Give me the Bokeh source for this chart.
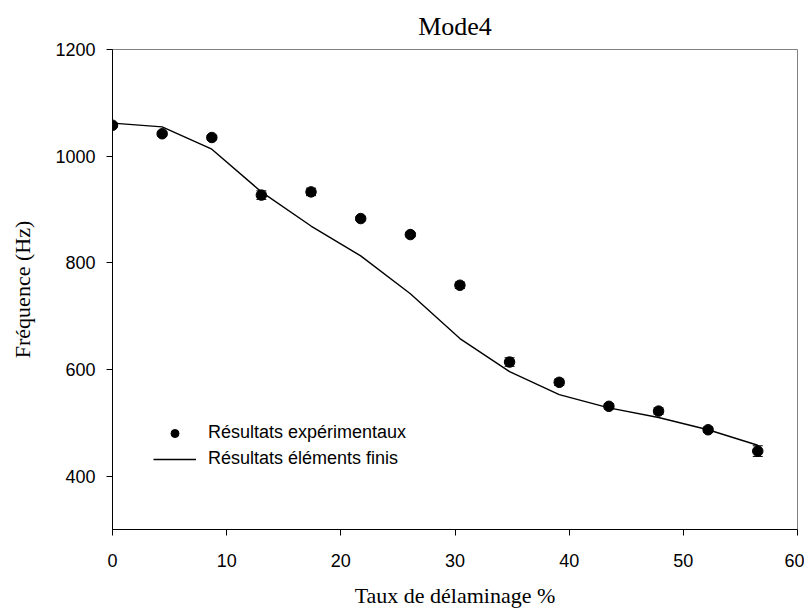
from bokeh.plotting import figure
from bokeh.models import ColumnDataSource, Whisker, FixedTicker, Legend, LegendItem, TeeHead
from bokeh.embed import file_html
from bokeh.resources import INLINE

# Data
taux = [0, 4.35, 8.7, 13.04, 17.39, 21.74, 26.09, 30.43, 34.78, 39.13, 43.48, 47.83, 52.17, 56.52]
freq_exp = [1058, 1042, 1035, 927, 933, 883, 853, 758, 614, 576, 531, 522, 487, 447]
freq_err = [4, 4, 4, 8, 7, 4, 4, 6, 8, 6, 5, 6, 5, 10]
freq_ef = [1062, 1055, 1013, 933, 869, 813, 742, 658, 596, 553, 528, 510, 487, 458]
x_ticks = [0, 10, 20, 30, 40, 50, 60]
y_ticks = [400, 600, 800, 1000, 1200]

src = ColumnDataSource(dict(
    x=taux, y=freq_exp,
    lo=[v - e for v, e in zip(freq_exp, freq_err)],
    hi=[v + e for v, e in zip(freq_exp, freq_err)],
))

p = figure(width=804, height=614, x_range=(0, 60), y_range=(300, 1200),
           output_backend="svg", toolbar_location=None,
           min_border_left=112, min_border_right=7, min_border_top=49, min_border_bottom=85)

p.title.text = "Mode4"
p.title.align = "center"
p.title.vertical_align = "bottom"
p.title.text_font = "Liberation Serif"
p.title.text_font_size = "26px"
p.title.text_font_style = "normal"
p.title.text_color = "black"
p.title.standoff = 18

p.grid.visible = False
p.background_fill_color = "white"
p.outline_line_color = "#808080"
p.outline_line_width = 1

for ax in (p.xaxis[0], p.yaxis[0]):
    ax.axis_line_color = "black"
    ax.axis_line_width = 1
    ax.major_tick_line_color = "black"
    ax.major_tick_in = 0
    ax.major_tick_out = 6
    ax.minor_tick_line_color = None
    ax.major_label_text_font = "Liberation Sans"
    ax.major_label_text_font_size = "18px"
    ax.major_label_text_color = "black"
    ax.axis_label_text_font = "Liberation Serif"
    ax.axis_label_text_font_size = "22px"
    ax.axis_label_text_font_style = "normal"
    ax.axis_label_text_color = "black"

p.xaxis[0].ticker = FixedTicker(ticks=x_ticks)
p.yaxis[0].ticker = FixedTicker(ticks=y_ticks)
p.xaxis[0].axis_label = "Taux de délaminage %"
p.yaxis[0].axis_label = "Fréquence (Hz)"
p.xaxis[0].major_label_standoff = 18
p.yaxis[0].major_label_standoff = 11
p.xaxis[0].axis_label_standoff = 13
p.yaxis[0].axis_label_standoff = 17

line_r = p.line(taux, freq_ef, line_color="black", line_width=1.4)
p.add_layout(Whisker(source=src, base="x", lower="lo", upper="hi",
                     line_color="black", line_width=1,
                     lower_head=TeeHead(size=10, line_color="black"),
                     upper_head=TeeHead(size=10, line_color="black")))
pts = p.scatter("x", "y", source=src, size=10.5, fill_color="black", line_color="black")

legend = Legend(items=[
    LegendItem(label="Résultats expérimentaux", renderers=[pts]),
    LegendItem(label="Résultats éléments finis", renderers=[line_r]),
], location=(41, 60))
legend.border_line_color = None
legend.background_fill_alpha = 0
legend.padding = 0
legend.margin = 0
legend.spacing = 5
legend.glyph_width = 43
legend.glyph_height = 20
legend.label_height = 20
legend.label_standoff = 12
legend.label_text_font = "Liberation Sans"
legend.label_text_font_size = "18px"
legend.label_text_color = "black"
p.add_layout(legend)

open("out.html", "w").write(file_html(p, INLINE))
